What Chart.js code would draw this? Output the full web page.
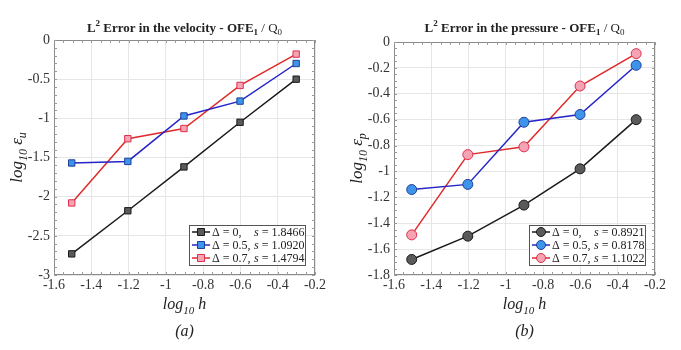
<!DOCTYPE html>
<html>
<head>
<meta charset="utf-8">
<script src="https://cdn.jsdelivr.net/npm/chart.js@4.4.0/dist/chart.umd.min.js"></script>
<style>
  body { margin: 0; background: #fff; }
  .wrap { position: absolute; top: 0; height: 350px; }
</style>
</head>
<body>
<div class="wrap" style="left:0;width:340px"><canvas id="vel"></canvas></div>
<div class="wrap" style="left:340px;width:341px"><canvas id="pres"></canvas></div>
<script>
// log10 h
const logH = [-1.505, -1.204, -0.903, -0.602, -0.301];

// velocity error, log10 e_u
const velD0 = [-2.73, -2.18, -1.62, -1.05, -0.50];
const velD05 = [-1.57, -1.55, -0.97, -0.78, -0.30];
const velD07 = [-2.08, -1.26, -1.13, -0.58, -0.18];

// pressure error, log10 e_p
const presD0 = [-1.68, -1.50, -1.26, -0.98, -0.60];
const presD05 = [-1.14, -1.10, -0.62, -0.56, -0.18];
const presD07 = [-1.49, -0.87, -0.81, -0.34, -0.09];

const deltas = ["0,", "0.5,", "0.7,"];
const velSlopes = ["1.8466", "1.0920", "1.4794"];
const presSlopes = ["0.8921", "0.8178", "1.1022"];

const xTicks = [-1.6, -1.4, -1.2, -1, -0.8, -0.6, -0.4, -0.2];

const SERIF = "Liberation Serif";
Chart.defaults.font.family = SERIF;
const styles = [
    { line: "#1a1a1a", fill: "#5a5a5a", border: "#1a1a1a" },
    { line: "#2424c8", fill: "#3d94ea", border: "#1d3f9a" },
    { line: "#e02a2a", fill: "#f6a3b3", border: "#de2f4c" }
];

function pts(ys) { return ys.map((y, i) => ({ x: logH[i], y: y })); }
function fmt(v) { return String(Math.round(v * 100) / 100); }

// draw a run of text pieces, each with its own font and vertical shift
function richWidth(ctx, parts) {
    let w = 0;
    parts.forEach(p => { ctx.font = p.f; w += ctx.measureText(p.t).width; });
    return w;
}
function richText(ctx, parts, x, y) {
    parts.forEach(p => {
        ctx.font = p.f;
        ctx.fillText(p.t, x, y + (p.dy || 0));
        x += ctx.measureText(p.t).width;
    });
}

function decorPlugin(cfg) {
    return {
        id: "decor",
        afterDraw(chart) {
            const ctx = chart.ctx, ca = chart.chartArea;
            const xs = chart.scales.x, ys = chart.scales.y;
            ctx.save();
            // frame
            ctx.strokeStyle = "#8a8a8a";
            ctx.lineWidth = 1;
            ctx.strokeRect(ca.left + 0.5, ca.top + 0.5, ca.right - ca.left - 1, ca.bottom - ca.top - 1);
            // minor ticks
            ctx.strokeStyle = "#9a9a9a";
            ctx.beginPath();
            for (let v = xs.min; v <= xs.max + 1e-9; v += 0.05) {
                const px = Math.round(xs.getPixelForValue(v)) + 0.5;
                ctx.moveTo(px, ca.bottom); ctx.lineTo(px, ca.bottom - 3);
                ctx.moveTo(px, ca.top); ctx.lineTo(px, ca.top + 3);
            }
            for (let v = ys.min; v <= ys.max + 1e-9; v += cfg.yMinor) {
                const py = Math.round(ys.getPixelForValue(v)) + 0.5;
                ctx.moveTo(ca.left, py); ctx.lineTo(ca.left + 3, py);
                ctx.moveTo(ca.right, py); ctx.lineTo(ca.right - 3, py);
            }
            ctx.stroke();

            ctx.fillStyle = "#222";
            ctx.textBaseline = "alphabetic";
            const cx = (ca.left + ca.right) / 2;
            // title
            const B = "bold 13px " + SERIF, Bs = "bold 9px " + SERIF, R = "13px " + SERIF, Rs = "9px " + SERIF;
            const title = [
                { t: "L", f: B }, { t: "2", f: Bs, dy: -6 }, { t: " Error in the " + cfg.what + " - OFE", f: B },
                { t: "1", f: Bs, dy: 3 }, { t: " / Q", f: R }, { t: "0", f: Rs, dy: 3 }
            ];
            richText(ctx, title, cx - richWidth(ctx, title) / 2, 32);
            // x label
            const I = "italic 16px " + SERIF, Is = "italic 11px " + SERIF;
            const xl = [{ t: "log", f: I }, { t: "10", f: Is, dy: 5 }, { t: " h", f: I }];
            richText(ctx, xl, cx - richWidth(ctx, xl) / 2, 309);
            // panel label
            ctx.font = "italic 16px " + SERIF;
            ctx.textAlign = "center";
            ctx.fillText(cfg.panel, cx, 336);
            ctx.textAlign = "left";
            // y label
            const IY = "italic 17px " + SERIF, IYs = "italic 12px " + SERIF;
            const yl = [{ t: "log", f: IY }, { t: "10", f: IYs, dy: 5 }, { t: " \u03B5", f: IY }, { t: cfg.sub, f: IYs, dy: 4 }];
            ctx.save();
            ctx.translate(22, (ca.top + ca.bottom) / 2);
            ctx.rotate(-Math.PI / 2);
            richText(ctx, yl, -richWidth(ctx, yl) / 2, 0);
            ctx.restore();

            // legend
            const bw = 116, bh = 40;
            const bx = ca.right - 10 - bw, by = ca.bottom - 10 - bh;
            ctx.fillStyle = "#fff";
            ctx.fillRect(bx, by, bw, bh);
            ctx.strokeStyle = "#555";
            ctx.strokeRect(bx + 0.5, by + 0.5, bw, bh);
            chart.data.datasets.forEach((ds, i) => {
                const ry = by + 7 + i * 13;
                ctx.strokeStyle = ds.borderColor;
                ctx.lineWidth = 1.5;
                ctx.beginPath(); ctx.moveTo(bx + 3, ry); ctx.lineTo(bx + 21, ry); ctx.stroke();
                ctx.fillStyle = ds.pointBackgroundColor;
                ctx.strokeStyle = ds.pointBorderColor;
                ctx.lineWidth = 1;
                ctx.beginPath();
                if (cfg.shape === "rect") ctx.rect(bx + 8.5, ry - 3.5, 7, 7);
                else ctx.arc(bx + 12, ry, 4.5, 0, Math.PI * 2);
                ctx.fill(); ctx.stroke();
                ctx.fillStyle = "#222";
                ctx.textBaseline = "middle";
                richText(ctx, [{ t: "\u0394 = " + deltas[i], f: "12px " + SERIF }], bx + 23, ry + 1);
                richText(ctx, [{ t: "s", f: "italic 12px " + SERIF }, { t: " = " + cfg.slopes[i], f: "12px " + SERIF }], bx + 65, ry + 1);
                ctx.textBaseline = "alphabetic";
            });
            ctx.restore();
        }
    };
}

function makeChart(id, series, cfg) {
    const datasets = series.map((ys, i) => ({
        data: pts(ys),
        borderColor: styles[i].line,
        borderWidth: 1.5,
        pointStyle: cfg.shape,
        pointRadius: cfg.shape === "rect" ? 4.5 : 5,
        pointBackgroundColor: styles[i].fill,
        pointBorderColor: styles[i].border,
        pointBorderWidth: 1,
        tension: 0
    }));
    const tickFont = { family: SERIF, size: 14 };
    new Chart(document.getElementById(id), {
        type: "line",
        data: { datasets: datasets },
        options: {
            responsive: true,
            maintainAspectRatio: false,
            animation: false,
            layout: { padding: { left: 24, right: cfg.padRight, top: cfg.top, bottom: 50 } },
            plugins: { legend: { display: false }, tooltip: { enabled: false } },
            scales: {
                x: {
                    type: "linear", min: -1.6, max: -0.2,
                    afterBuildTicks: s => { s.ticks = xTicks.map(v => ({ value: v })); },
                    afterFit: s => { s.height = 25; },
                    ticks: { font: tickFont, color: "#333", padding: 2, maxRotation: 0, callback: v => fmt(v) },
                    grid: { color: "#e6e6e6", drawTicks: false },
                    border: { display: false }
                },
                y: {
                    min: cfg.yMin, max: 0,
                    afterBuildTicks: s => { s.ticks = cfg.yTicks.map(v => ({ value: v })); },
                    afterFit: s => { s.width = 30; },
                    ticks: { font: tickFont, color: "#333", padding: 4, callback: v => fmt(v) },
                    grid: { color: "#e6e6e6", drawTicks: false },
                    border: { display: false }
                }
            }
        },
        plugins: [decorPlugin(cfg)]
    });
}

makeChart("vel", [velD0, velD05, velD07], {
    what: "velocity", sub: "u", panel: "(a)", shape: "rect",
    yMin: -3, yTicks: [-3, -2.5, -2, -1.5, -1, -0.5, 0], yMinor: 0.1,
    slopes: velSlopes, padRight: 25, top: 40
});
makeChart("pres", [presD0, presD05, presD07], {
    what: "pressure", sub: "p", panel: "(b)", shape: "circle",
    yMin: -1.8, yTicks: [-1.8, -1.6, -1.4, -1.2, -1, -0.8, -0.6, -0.4, -0.2, 0], yMinor: 0.05,
    slopes: presSlopes, padRight: 26, top: 42
});
</script>
</body>
</html>
